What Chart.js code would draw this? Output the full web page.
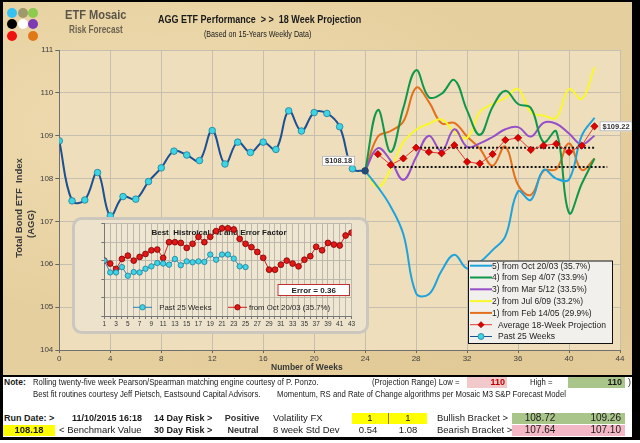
<!DOCTYPE html>
<html>
<head>
<meta charset="utf-8">
<title>AGG ETF Performance</title>
<script src="https://cdn.jsdelivr.net/npm/chart.js"></script>
<style>
  body { margin:0; width:640px; height:443px; position:relative; overflow:hidden; background:#fff;
         font-family:"Liberation Sans", Arial, sans-serif; color:#1a1a1a; }
  #paper { position:absolute; left:0; top:0; width:640px; height:376px; background-color:#E6CF9E;
           background-image: radial-gradient(ellipse at 25% 35%, rgba(255,244,214,0.35), transparent 55%),
                             radial-gradient(ellipse at 80% 75%, rgba(205,176,118,0.25), transparent 55%); }
  canvas { position:absolute; }
  .blk { position:absolute; background:#000; }
  .dot { position:absolute; width:10px; height:10px; border-radius:50%; }
  .t { position:absolute; white-space:nowrap; line-height:12px; height:12px; }
  .n { transform: scaleX(0.82); transform-origin: 0 50%; }
  .m { transform: scaleX(0.86); transform-origin: 0 50%; }
  .b { font-weight:bold; }
  .cell { position:absolute; }
  .vt { position:absolute; white-space:nowrap; font-weight:bold; font-size:9.5px; color:#3a3a3a;
        transform: translate(-50%, -50%) rotate(-90deg); }
</style>
</head>
<body>
<div id="paper"></div>

<canvas id="mainChart" width="640" height="372" style="left:0;top:0"></canvas>
<canvas id="insetChart" width="297" height="117" style="left:72px;top:217px"></canvas>

<!-- logo -->
<div class="dot" style="left:7px;top:8px;background:#35C2F2"></div>
<div class="dot" style="left:18px;top:8px;background:#9E9A6C"></div>
<div class="dot" style="left:28px;top:8px;background:#8DCB4F"></div>
<div class="dot" style="left:7px;top:19px;background:#000"></div>
<div class="dot" style="left:18px;top:19px;background:#fff"></div>
<div class="dot" style="left:28px;top:19px;background:#7C3BB2"></div>
<div class="dot" style="left:7px;top:31px;background:#F01010"></div>
<div class="dot" style="left:28px;top:31px;background:#E07818"></div>
<div class="t n b" style="left:65px;top:9px;font-size:13.5px;color:#5B5548">ETF Mosaic</div>
<div class="t n b" style="left:69px;top:24px;font-size:10px;color:#6B6250">Risk Forecast</div>
<div class="t n b" style="left:158px;top:13px;font-size:11px;color:#1a1a1a">AGG ETF Performance&nbsp;&nbsp;&gt; &gt;&nbsp;&nbsp;18 Week Projection</div>
<div class="t n" style="left:204px;top:28px;font-size:8.7px;color:#1a1a1a">(Based on 15-Years Weekly Data)</div>

<!-- axis titles -->
<div class="vt" style="left:18px;top:208px">Total Bond ETF&nbsp; Index</div>
<div class="vt" style="left:30px;top:224px">(AGG)</div>
<div class="t b" style="left:271px;top:361px;font-size:8.5px;color:#3a3a3a">Number of Weeks</div>

<!-- bottom table -->
<div class="cell" style="left:3px;top:377px;width:629px;height:60px;background:#fff"></div>
<div class="t b" style="left:4px;top:376px;font-size:8.5px">Note:</div>
<div class="t m" style="left:33px;top:376px;font-size:9px">Rolling twenty-five week Pearson/Spearman matching engine courtesy of P. Ponzo.</div>
<div class="t m" style="left:372px;top:376px;font-size:9px">(Projection Range) Low =</div>
<div class="cell" style="left:467px;top:376px;width:40px;height:12px;background:#F2C9CB"></div>
<div class="t b" style="left:445px;top:376px;width:60px;text-align:right;font-size:9px;color:#C00000">110</div>
<div class="t m" style="left:530px;top:376px;font-size:9px">High =</div>
<div class="cell" style="left:568px;top:376px;width:57px;height:12px;background:#A9C58A"></div>
<div class="t b" style="left:562px;top:376px;width:60px;text-align:right;font-size:9px">110</div>
<div class="t" style="left:628px;top:376px;font-size:9px">)</div>
<div class="t m" style="left:33px;top:388px;font-size:9px">Best fit routines courtesy Jeff Pietsch, Eastsound Capital Advisors.</div>
<div class="t m" style="left:277px;top:388px;font-size:9px">Momentum, RS and Rate of Change algorithms per Mosaic M3 S&amp;P Forecast Model</div>

<div class="t b" style="left:4px;top:412px;font-size:9px">Run Date: &gt;</div>
<div class="t b" style="left:72px;top:412px;font-size:9px">11/10/2015 16:18</div>
<div class="t b" style="left:154px;top:412px;font-size:9px">14 Day Risk &gt;</div>
<div class="t b" style="left:212px;top:412px;width:60px;text-align:center;font-size:9px;color:#333">Positive</div>
<div class="t" style="left:273px;top:412px;font-size:9.5px">Volatility FX</div>
<div class="cell" style="left:352px;top:413px;width:75px;height:11px;background:#FFFF00"></div>
<div class="cell" style="left:388px;top:413px;width:1px;height:11px;background:#8A7A20"></div>
<div class="t" style="left:340px;top:412px;width:60px;text-align:center;font-size:9.5px">1</div>
<div class="t" style="left:378px;top:412px;width:60px;text-align:center;font-size:9.5px">1</div>
<div class="t" style="left:437px;top:412px;font-size:9.5px">Bullish Bracket &gt;</div>
<div class="cell" style="left:512px;top:413px;width:113px;height:11px;background:#A9C58A"></div>
<div class="t" style="left:510px;top:412px;width:60px;text-align:center;font-size:10px">108.72</div>
<div class="t" style="left:561px;top:412px;width:60px;text-align:right;font-size:10px">109.26</div>

<div class="cell" style="left:3px;top:425px;width:52px;height:11px;background:#FFFF00"></div>
<div class="t b" style="left:-1px;top:424px;width:60px;text-align:center;font-size:9.5px">108.18</div>
<div class="t" style="left:59px;top:424px;font-size:9.5px">&lt; Benchmark Value</div>
<div class="t b" style="left:154px;top:424px;font-size:9px">30 Day Risk &gt;</div>
<div class="t b" style="left:213px;top:424px;width:60px;text-align:center;font-size:9px;color:#333">Neutral</div>
<div class="t" style="left:273px;top:424px;font-size:9.5px">8 week Std Dev</div>
<div class="t" style="left:338px;top:424px;width:60px;text-align:center;font-size:9.5px">0.54</div>
<div class="t" style="left:378px;top:424px;width:60px;text-align:center;font-size:9.5px">1.08</div>
<div class="t" style="left:437px;top:424px;font-size:9.5px">Bearish Bracket &gt;</div>
<div class="cell" style="left:512px;top:425px;width:113px;height:11px;background:#F4B7C6"></div>
<div class="t" style="left:510px;top:424px;width:60px;text-align:center;font-size:10px">107.64</div>
<div class="t" style="left:561px;top:424px;width:60px;text-align:right;font-size:10px">107.10</div>

<!-- frame -->
<div class="blk" style="left:0;top:0;width:640px;height:2px"></div>
<div class="blk" style="left:0;top:0;width:3px;height:440px"></div>
<div class="blk" style="left:632px;top:0;width:8px;height:440px"></div>
<div class="blk" style="left:0;top:375px;width:640px;height:2px"></div>
<div class="blk" style="left:0;top:437px;width:640px;height:3px"></div>

<script>
// past 25 weeks (weeks 0..24)
const pastWeeks = [0,1,2,3,4,5,6,7,8,9,10,11,12,13,14,15,16,17,18,19,20,21,22,23,24];
const pastValues = [108.88,107.48,107.50,108.14,107.13,107.58,107.52,107.93,108.25,108.64,108.55,108.42,
                    109.12,108.34,108.85,108.61,108.85,108.68,109.58,109.11,109.54,109.52,109.21,108.23,108.18];

// 18 week projections (weeks 24..42), best historical matches
const projWeeks = [24,25,26,27,28,29,30,31,32,33,34,35,36,37,38,39,40,41,42];
const projOct2003 = [108.18,107.80,107.35,106.70,105.32,105.30,105.85,106.22,105.90,106.05,106.33,106.65,107.70,107.50,108.20,108.00,107.98,109.00,109.42];
const projSep2007 = [108.18,109.60,108.62,109.65,110.53,109.90,109.98,110.30,109.59,109.02,109.67,110.05,109.74,109.65,108.85,109.10,107.20,107.88,108.47];
const projMar2012 = [108.18,108.71,108.42,107.97,108.50,109.00,108.64,109.15,108.74,108.82,108.97,109.15,109.20,108.98,109.30,109.28,109.05,108.80,109.00];
const projJul2009 = [108.18,107.80,108.22,108.85,109.14,109.28,109.38,109.10,108.95,109.55,109.74,109.88,110.09,109.55,109.47,109.42,110.09,109.86,110.60];
const projFeb2005 = [108.18,108.98,109.11,109.33,110.12,109.79,109.29,109.30,108.98,108.70,108.30,108.75,107.85,107.62,108.18,108.22,108.82,108.20,108.47];

// average projection (weeks 25..42)
const avgWeeks = [25,26,27,28,29,30,31,32,33,34,35,36,37,38,39,40,41,42];
const avgProjection = [108.57,108.32,108.47,108.72,108.62,108.59,108.78,108.39,108.35,108.57,108.90,108.95,108.67,108.77,108.81,108.62,108.77,109.22];

// dotted bracket lines
const bracketHigh = 108.72;
const bracketHighWeeks = [28, 42];
const bracketLow = 108.27;
const bracketLowWeeks = [26, 43];

// inset: best historical fit (index units)
const insetWeeks = [1,2,3,4,5,6,7,8,9,10,11,12,13,14,15,16,17,18,19,20,21,22,23,24,25,26,27,28,29,30,31,32,33,34,35,36,37,38,39,40,41,42,43];
const insetPast = [3.00,2.36,2.36,2.65,2.18,2.38,2.36,2.56,2.69,2.87,2.84,2.78,3.09,2.75,2.96,2.91,2.96,2.93,3.33,3.05,3.33,3.33,3.11,2.69,2.65];
const insetFit = [3.00,2.84,2.55,3.09,3.27,3.00,3.20,3.36,3.56,3.60,3.15,4.00,4.00,3.96,3.69,3.91,4.29,4.00,4.29,4.60,
                  4.75,4.75,4.69,4.18,3.91,3.73,3.47,3.15,2.51,2.51,2.78,3.00,2.84,2.69,3.05,3.24,3.75,3.56,3.96,3.87,3.82,4.36,4.51];
const fitError = 0.36;

const pts = (xs, ys) => ys.map((y, i) => ({ x: xs[i], y: y }));
const FONT = '"Liberation Sans", Arial, sans-serif';
Chart.defaults.font.family = FONT;

function projection(label, values, color) {
  return { label: label, data: pts(projWeeks, values), borderColor: color, backgroundColor: color,
           borderWidth: 2, pointRadius: 0, tension: 0.4, order: 2 };
}

function marker(ctx, style, x, y, r, fill, stroke) {
  ctx.beginPath();
  if (style === 'rectRot') {
    ctx.moveTo(x, y - r); ctx.lineTo(x + r, y); ctx.lineTo(x, y + r); ctx.lineTo(x - r, y); ctx.closePath();
  } else {
    ctx.arc(x, y, r, 0, Math.PI * 2);
  }
  ctx.fillStyle = fill; ctx.fill();
  ctx.lineWidth = 0.8; ctx.strokeStyle = stroke; ctx.stroke();
}

const plotFill = {
  id: 'plotFill',
  beforeDraw(chart) {
    const { ctx, chartArea: a } = chart;
    ctx.save();
    ctx.fillStyle = chart.options.plotColor;
    ctx.fillRect(a.left, a.top, a.right - a.left, a.bottom - a.top);
    ctx.restore();
  }
};

function tag(ctx, text, x, y, align) {
  ctx.font = 'bold 7.5px ' + FONT;
  const w = ctx.measureText(text).width + 6, h = 10;
  const left = align === 'right' ? x - w : x;
  ctx.fillStyle = '#FFFFFF';
  ctx.fillRect(left, y - h / 2, w, h);
  ctx.strokeStyle = '#B8B8B8'; ctx.lineWidth = 1;
  ctx.strokeRect(left + 0.5, y - h / 2 + 0.5, w - 1, h - 1);
  ctx.fillStyle = '#333'; ctx.textAlign = 'left'; ctx.textBaseline = 'middle';
  ctx.fillText(text, left + 3, y + 0.5);
}

const valueTags = {
  id: 'valueTags',
  afterDatasetsDraw(chart) {
    const ctx = chart.ctx, xs = chart.scales.x, ys = chart.scales.y;
    const lp = pastValues.length - 1, la = avgProjection.length - 1;
    ctx.save();
    tag(ctx, '$' + pastValues[lp].toFixed(2), xs.getPixelForValue(pastWeeks[lp]) - 10, ys.getPixelForValue(pastValues[lp]) - 10, 'right');
    tag(ctx, '$' + avgProjection[la].toFixed(2), xs.getPixelForValue(avgWeeks[la]) + 5, ys.getPixelForValue(avgProjection[la]), 'left');
    ctx.restore();
  }
};

const sideLegend = {
  id: 'sideLegend',
  afterDatasetsDraw(chart) {
    const ctx = chart.ctx;
    const box = { x: 468, y: 260.5, w: 145, h: 83.5 };
    ctx.save();
    ctx.fillStyle = '#F2F0EC';
    ctx.fillRect(box.x, box.y, box.w, box.h);
    ctx.strokeStyle = '#111'; ctx.lineWidth = 1;
    ctx.strokeRect(box.x + 0.5, box.y + 0.5, box.w - 1, box.h - 1);
    ctx.font = '8.5px ' + FONT; ctx.textBaseline = 'middle'; ctx.textAlign = 'left';
    let row = 0;
    chart.data.datasets.forEach(ds => {
      if (ds.hideInLegend) return;
      const y = 265.7 + row * 11.8;
      ctx.strokeStyle = ds.borderColor; ctx.lineWidth = ds.pointRadius ? 1 : 2;
      ctx.beginPath(); ctx.moveTo(470, y); ctx.lineTo(492, y); ctx.stroke();
      let tx = 492;
      if (ds.pointRadius) {
        marker(ctx, ds.pointStyle, 481, y, 3, ds.legendFill, ds.legendStroke);
        tx = 498;
      }
      ctx.fillStyle = '#222';
      ctx.fillText(ds.label, tx, y + 0.5);
      row++;
    });
    ctx.restore();
  }
};

new Chart(document.getElementById('mainChart'), {
  type: 'line',
  data: {
    datasets: [
      projection('5) from Oct 20/03 (35.7%)', projOct2003, '#1FA3DC'),
      projection('4) from Sep 4/07 (33.9%)', projSep2007, '#0F974A'),
      projection('3) from Mar 5/12 (33.5%)', projMar2012, '#9550C9'),
      projection('2) from Jul 6/09 (33.2%)', projJul2009, '#F8F82C'),
      projection('1) from Feb 14/05 (29.9%)', projFeb2005, '#E2701E'),
      { label: 'Average 18-Week Projection', data: pts(avgWeeks, avgProjection), borderColor: '#E23A3A',
        borderWidth: 1, tension: 0, pointStyle: 'rectRot', pointRadius: 3.6, pointBorderWidth: 0.8,
        pointBackgroundColor: '#E00000', pointBorderColor: '#A00000',
        legendFill: '#E00000', legendStroke: '#A00000', order: 0 },
      { label: 'Past 25 Weeks', data: pts(pastWeeks, pastValues), borderColor: '#1D4F91', borderWidth: 2,
        tension: 0.4, pointRadius: 3.3, pointBorderWidth: 0.8,
        pointBackgroundColor: c => c.dataIndex === pastValues.length - 1 ? '#1F4E79' : '#3DD4E4',
        pointBorderColor: c => c.dataIndex === pastValues.length - 1 ? '#1F3E69' : '#1E7F9A',
        legendFill: '#3DD4E4', legendStroke: '#1E7F9A', order: 0 },
      { label: 'Bullish bracket', data: pts(bracketHighWeeks, [bracketHigh, bracketHigh]), borderColor: '#111',
        borderWidth: 2, borderDash: [2, 2], pointRadius: 0, hideInLegend: true, order: 1 },
      { label: 'Bearish bracket', data: pts(bracketLowWeeks, [bracketLow, bracketLow]), borderColor: '#111',
        borderWidth: 2, borderDash: [2, 2], pointRadius: 0, hideInLegend: true, order: 1 }
    ]
  },
  options: {
    responsive: false,
    animation: false,
    plotColor: '#EEDEBB',
    layout: { padding: { left: 8, top: 50, right: 20, bottom: 0 } },
    plugins: { legend: { display: false }, tooltip: { enabled: false } },
    scales: {
      x: {
        type: 'linear', min: 0, max: 44,
        ticks: { stepSize: 4, font: { size: 8 }, color: '#404040', padding: 1, maxRotation: 0 },
        grid: { color: '#C6BEAE', tickLength: 3, tickColor: '#666' },
        border: { color: '#707070' },
        afterFit: s => { s.height = 22; }
      },
      y: {
        min: 104, max: 111,
        ticks: { stepSize: 1, font: { size: 8 }, color: '#404040', padding: 2 },
        grid: { color: '#C6BEAE', tickLength: 4, tickColor: '#666' },
        border: { color: '#707070' },
        afterFit: s => { s.width = 51.3; }
      }
    }
  },
  plugins: [plotFill, valueTags, sideLegend]
});

const insetDecor = {
  id: 'insetDecor',
  beforeDraw(chart) {
    const { ctx, width, height, chartArea: a } = chart;
    ctx.save();
    ctx.beginPath();
    ctx.roundRect(1.5, 1.5, width - 3, height - 3, 8);
    ctx.fillStyle = '#EDE3CC'; ctx.fill();
    ctx.lineWidth = 3; ctx.strokeStyle = '#CBC7BF'; ctx.stroke();
    ctx.fillStyle = '#EFE6D1';
    ctx.fillRect(a.left, a.top, a.right - a.left, a.bottom - a.top);
    ctx.restore();
  },
  beforeDatasetsDraw(chart) {
    const ctx = chart.ctx;
    ctx.save();
    ctx.font = 'bold 8px ' + FONT; ctx.fillStyle = '#1a1a1a';
    ctx.textAlign = 'center'; ctx.textBaseline = 'middle';
    ctx.fillText('Best  Histroical Fit and Error Factor', 147, 15.5);
    ctx.restore();
  },
  afterDatasetsDraw(chart) {
    const ctx = chart.ctx;
    const ds = chart.data.datasets;
    const y = 90.3;
    ctx.save();
    ctx.font = '7.8px ' + FONT; ctx.textBaseline = 'middle'; ctx.textAlign = 'left';
    [[61, 80, 70.5, 87.3], [156, 175, 165.5, 177]].forEach((p, i) => {
      ctx.strokeStyle = ds[i].borderColor; ctx.lineWidth = 1;
      ctx.beginPath(); ctx.moveTo(p[0], y); ctx.lineTo(p[1], y); ctx.stroke();
      marker(ctx, 'circle', p[2], y, 2.7, ds[i].pointBackgroundColor, ds[i].pointBorderColor);
      ctx.fillStyle = '#222';
      ctx.fillText(ds[i].label, p[3], y + 0.5);
    });
    ctx.fillStyle = '#FFFFFF'; ctx.fillRect(205.5, 67, 72.5, 12);
    ctx.strokeStyle = '#C03030'; ctx.lineWidth = 1; ctx.strokeRect(206, 67.5, 71.5, 11);
    ctx.font = 'bold 8px ' + FONT; ctx.fillStyle = '#222'; ctx.textAlign = 'center';
    ctx.fillText('Error = ' + fitError.toFixed(2), 241.7, 73.5);
    ctx.restore();
  }
};

new Chart(document.getElementById('insetChart'), {
  type: 'line',
  data: {
    datasets: [
      { label: 'Past 25 Weeks', data: pts(insetWeeks, insetPast), borderColor: '#2A80B5', borderWidth: 1,
        tension: 0, pointRadius: 2.7, pointBorderWidth: 0.8, pointBackgroundColor: '#3FD3E3', pointBorderColor: '#1E7F9A' },
      { label: 'from Oct 20/03 (35.7%)', data: pts(insetWeeks, insetFit), borderColor: '#D42020', borderWidth: 1,
        tension: 0, pointRadius: 2.9, pointBorderWidth: 0.8, pointBackgroundColor: '#E01818', pointBorderColor: '#800000' }
    ]
  },
  options: {
    responsive: false,
    animation: false,
    layout: { padding: { left: 0, top: 6.7, right: 17.5, bottom: 0 } },
    plugins: { legend: { display: false }, tooltip: { enabled: false } },
    scales: {
      x: {
        type: 'linear', min: 1, max: 43,
        ticks: { stepSize: 1, autoSkip: false, minRotation: 0, maxRotation: 0, font: { size: 6.5 }, color: '#333', padding: 1,
                 callback: v => (v % 2 === 1 ? v : '') },
        grid: { color: '#BDB8AE', tickLength: 3, tickColor: '#777' },
        border: { color: '#777' },
        afterFit: s => { s.height = 18; }
      },
      y: {
        min: 0, max: 5,
        ticks: { stepSize: 1, display: false },
        grid: { color: '#BDB8AE', tickLength: 3, tickColor: '#777' },
        border: { color: '#777' },
        afterFit: s => { s.width = 32.3; }
      }
    }
  },
  plugins: [insetDecor]
});
</script>
</body>
</html>
